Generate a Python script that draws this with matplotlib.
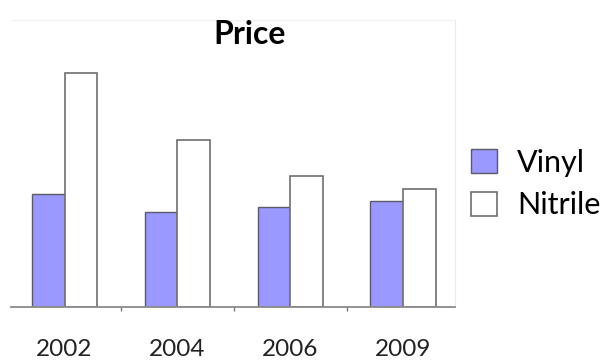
import matplotlib
matplotlib.use("Agg")
import matplotlib.pyplot as plt
import numpy as np

years = ["2002", "2004", "2006", "2009"]
vinyl = [113, 95, 100, 106]
nitrile = [234, 167, 131, 118]

fig = plt.figure(figsize=(6.09, 3.63), dpi=100)
ax = fig.add_axes([11 / 609, 56 / 363, 444 / 609, 287 / 363])

x = np.arange(len(years))
w = 0.29
ax.bar(x - w / 2, vinyl, w, color="#9999ff", edgecolor="#5a5a6a", linewidth=1.0, label="Vinyl")
ax.bar(x + w / 2, nitrile, w, color="white", edgecolor="#6e6e6e", linewidth=1.2, label="Nitrile")

ax.set_xlim(-0.475, 3.46)
ax.set_ylim(0, 287)

# category labels centred under each group, small ticks between groups
ax.set_xticks(x)
ax.set_xticklabels(years, fontfamily="Lato", fontsize=17.5, color="#222222")
ax.tick_params(axis="x", which="major", length=0, pad=23)
ax.set_xticks([0.5, 1.5, 2.5], minor=True)
ax.tick_params(axis="x", which="minor", length=3, width=1, color="#777777", direction="out")
ax.set_yticks([])

ax.spines["left"].set_visible(False)
ax.spines["bottom"].set_color("#8a8a8a")
ax.spines["bottom"].set_linewidth(1.3)
ax.spines["top"].set_color("#f0f0f0")
ax.spines["right"].set_color("#ececec")

fig.text(250 / 609, 1 - 35 / 363, "Price", fontfamily="Lato", fontweight="bold",
         fontsize=23, ha="center", va="center")

fig.legend(loc="center left", bbox_to_anchor=(462 / 609, 179 / 363), frameon=False,
           prop={"family": "Lato", "size": 22}, handlelength=0.85, handleheight=0.85,
           handletextpad=0.65, labelspacing=0.48, borderaxespad=0, borderpad=0.3)

fig.savefig("out.png", dpi=100)
